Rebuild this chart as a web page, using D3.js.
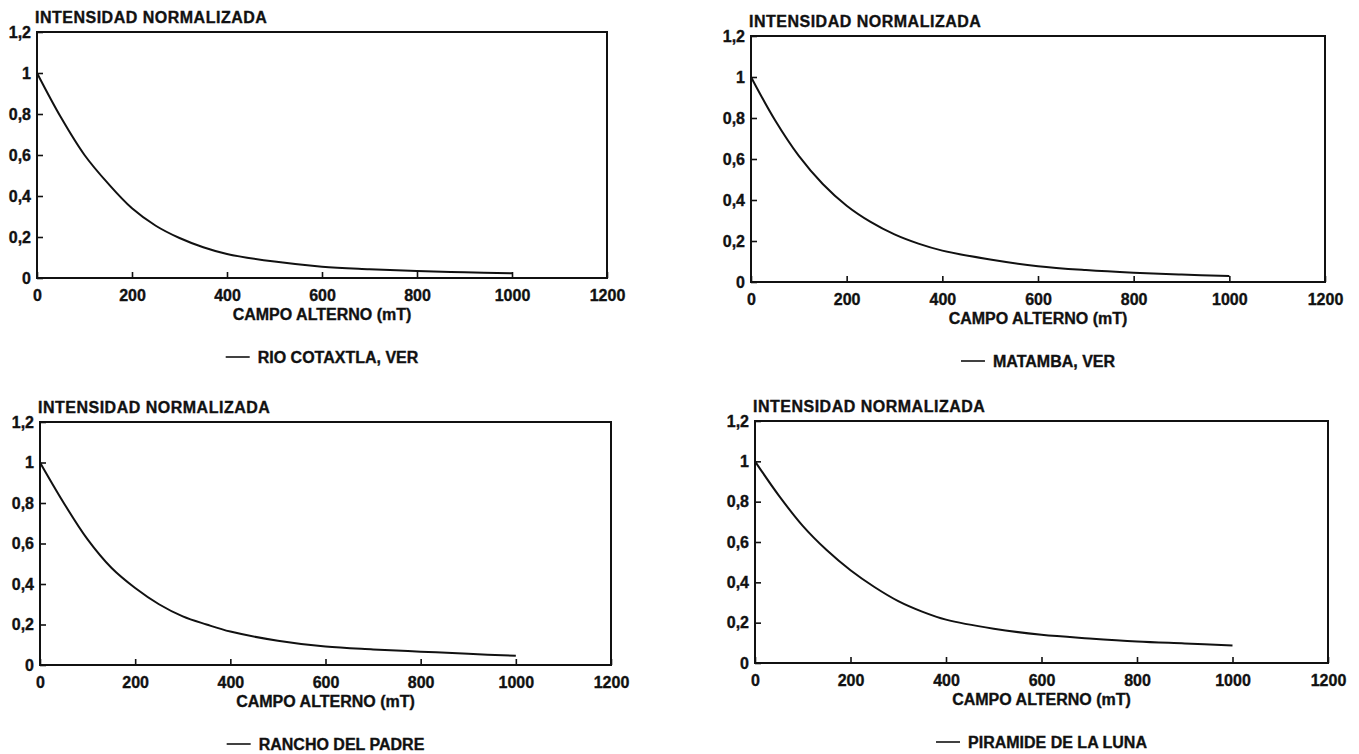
<!DOCTYPE html>
<html>
<head>
<meta charset="utf-8">
<script src="https://cdn.jsdelivr.net/npm/d3@7"></script>
<style>
    body { margin: 0; background: #fff; }
    svg text {
        font-family: "Liberation Sans", Arial, sans-serif;
        font-weight: bold;
        fill: #111;
        stroke: #111;
        stroke-width: 0.35px;
    }
</style>
</head>
<body>
<div id="chart"></div>
<script>
// Data
const fields = [0, 50, 100, 150, 200, 250, 300, 350, 400, 500, 600, 700, 800, 900, 1000];
const rioCotaxtla  = [1.0, 0.785, 0.60, 0.46, 0.34, 0.255, 0.195, 0.15, 0.117, 0.08, 0.055, 0.043, 0.034, 0.028, 0.023];
const matamba      = [1.0, 0.79, 0.615, 0.478, 0.372, 0.293, 0.232, 0.187, 0.153, 0.11, 0.077, 0.058, 0.045, 0.036, 0.029];
const ranchoPadre  = [1.0, 0.80, 0.62, 0.48, 0.38, 0.30, 0.24, 0.20, 0.165, 0.12, 0.091, 0.077, 0.066, 0.055, 0.046];
const piramideLuna = [1.0, 0.83, 0.68, 0.56, 0.46, 0.377, 0.307, 0.255, 0.215, 0.17, 0.14, 0.122, 0.107, 0.097, 0.087];

const siteNames = ["RIO COTAXTLA, VER", "MATAMBA, VER", "RANCHO DEL PADRE", "PIRAMIDE DE LA LUNA"];
const siteSeries = [rioCotaxtla, matamba, ranchoPadre, piramideLuna];

const xTicks = [0, 200, 400, 600, 800, 1000, 1200];
const yTicks = [0, 0.2, 0.4, 0.6, 0.8, 1, 1.2];
const yTickLabels = ["0", "0,2", "0,4", "0,6", "0,8", "1", "1,2"];
const yTitle = "INTENSIDAD NORMALIZADA";
const xTitle = "CAMPO ALTERNO (mT)";

const svg = d3.select("#chart")
    .append("svg")
    .attr("width", 1359)
    .attr("height", 754);

svg.append("rect").attr("width", 1359).attr("height", 754).attr("fill", "#fff");

// plot boxes (pixel frame of each panel)
const boxes = [
    { left: 37,  right: 607,  top: 32,  bottom: 278 },
    { left: 751, right: 1325, top: 36,  bottom: 282 },
    { left: 40,  right: 611,  top: 422, bottom: 665 },
    { left: 755, right: 1328, top: 421, bottom: 663 }
];

function drawPanel(box, values, name) {
    const g = svg.append("g");

    const x = d3.scaleLinear().domain([0, 1200]).range([box.left, box.right]);
    const y = d3.scaleLinear().domain([0, 1.2]).range([box.bottom, box.top]);

    // X axis, ticks pointing inward
    const xAxis = g.append("g")
        .attr("transform", `translate(0,${box.bottom})`)
        .call(d3.axisBottom(x).tickValues(xTicks).tickSize(-6).tickPadding(12).tickFormat(d3.format("d")));
    xAxis.select(".domain").remove();
    xAxis.selectAll("line").attr("stroke", "#111").attr("stroke-width", 1.6);
    xAxis.selectAll("text").style("font-size", "16px").attr("fill", "#111");

    // Y axis
    const yAxis = g.append("g")
        .attr("transform", `translate(${box.left},0)`)
        .call(d3.axisLeft(y).tickValues(yTicks).tickSize(-6).tickPadding(6)
            .tickFormat((d, i) => yTickLabels[i]));
    yAxis.select(".domain").remove();
    yAxis.selectAll("line").attr("stroke", "#111").attr("stroke-width", 1.6);
    yAxis.selectAll("text").style("font-size", "16px").attr("fill", "#111");

    // frame
    g.append("rect")
        .attr("x", box.left)
        .attr("y", box.top)
        .attr("width", box.right - box.left)
        .attr("height", box.bottom - box.top)
        .attr("fill", "none")
        .attr("stroke", "#111")
        .attr("stroke-width", 2);

    // curve
    const line = d3.line()
        .x((d, i) => x(fields[i]))
        .y(d => y(d))
        .curve(d3.curveCatmullRom.alpha(0.5));

    g.append("path")
        .datum(values)
        .attr("d", line)
        .attr("fill", "none")
        .attr("stroke", "#111")
        .attr("stroke-width", 2);

    // axis titles
    g.append("text")
        .attr("x", box.left - 2)
        .attr("y", box.top - 9)
        .style("font-size", "16px")
        .style("letter-spacing", "0.5px")
        .text(yTitle);

    const cx = (box.left + box.right) / 2;
    g.append("text")
        .attr("x", cx)
        .attr("y", box.bottom + 42)
        .attr("text-anchor", "middle")
        .style("font-size", "16px")
        .text(xTitle);

    // legend
    const legend = g.append("g");
    const label = legend.append("text")
        .attr("y", box.bottom + 85)
        .style("font-size", "16px")
        .text(name);
    const tw = label.node().getComputedTextLength();
    const total = 24 + 8 + tw;
    const lx = cx - total / 2;
    legend.append("line")
        .attr("x1", lx).attr("x2", lx + 24)
        .attr("y1", box.bottom + 79).attr("y2", box.bottom + 79)
        .attr("stroke", "#111")
        .attr("stroke-width", 1.6);
    label.attr("x", lx + 32);
}

boxes.forEach((b, i) => drawPanel(b, siteSeries[i], siteNames[i]));
</script>
</body>
</html>
